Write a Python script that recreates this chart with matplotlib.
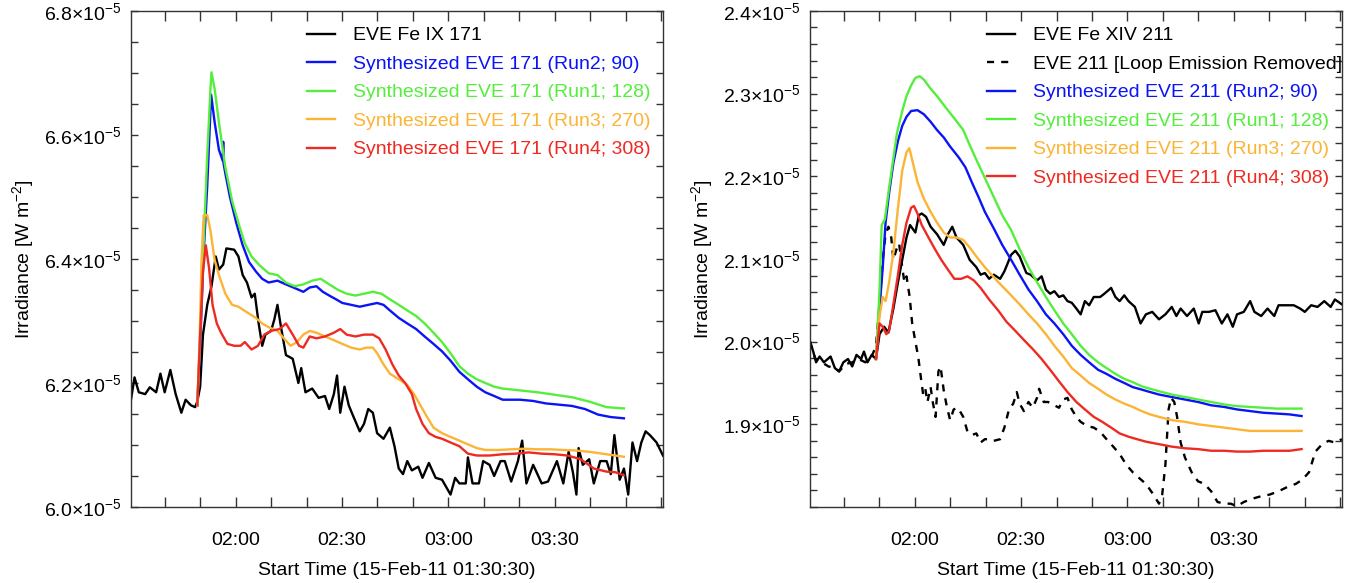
import matplotlib
matplotlib.use("Agg")
import matplotlib.pyplot as plt
from matplotlib.ticker import FixedLocator, MultipleLocator, FuncFormatter

plt.rcParams['font.family'] = ['Liberation Sans', 'DejaVu Sans']
plt.rcParams['mathtext.fontset'] = 'custom'
plt.rcParams['mathtext.rm'] = 'Liberation Sans'
plt.rcParams['mathtext.it'] = 'Liberation Sans:italic'
plt.rcParams['mathtext.default'] = 'regular'

# time axis: minutes after 01:30:30 on 15-Feb-11
xtick_pos = [29.5, 59.5, 89.5, 119.5]
xtick_labels = ['02:00', '02:30', '03:00', '03:30']

# ---------------- left panel: 171 (values in 1e-5 W m^-2) ----------------
t171_obs = [0, 1.0, 2.2, 4.0, 5.3, 7.1, 8.3, 9.5, 11.1, 12.6, 14.2, 15.4, 16.9, 18.1, 18.7,
            19.5, 20.3, 21.5, 22.7, 23.9, 24.8, 26.0, 26.9, 29.1, 30.3, 31.5, 32.7, 34.0,
            34.9, 36.0, 37.0, 37.9, 39.5, 40.4, 41.3, 42.3, 43.7, 45.6, 47.2, 48.0, 49.2,
            51.1, 52.9, 54.7, 55.9, 57.2, 58.1, 59.0, 60.2, 61.4, 62.7, 64.5, 65.7, 66.9,
            68.2, 69.4, 71.2, 73.0, 74.3, 75.5, 76.7, 77.9, 79.2, 81.0, 82.2, 84.0, 85.9,
            87.7, 88.9, 90.1, 91.4, 92.6, 94.4, 95.0, 96.3, 98.1, 99.3, 101.1, 102.4, 104.2,
            105.4, 107.2, 109.1, 110.3, 111.5, 113.4, 115.8, 117.6, 120.1, 121.9, 123.4,
            124.6, 125.6, 126.2, 127.4, 129.2, 130.5, 132.3, 134.1, 135.3, 136.3, 137.8,
            139.0, 140.2, 141.4, 142.7, 143.9, 145.1, 146.3, 148.2, 150.0]
v171_obs = [6.173, 6.209, 6.185, 6.182, 6.193, 6.185, 6.215, 6.185, 6.221, 6.182,
            6.152, 6.173, 6.164, 6.161, 6.170, 6.194, 6.278, 6.326, 6.356, 6.404,
            6.383, 6.391, 6.417, 6.415, 6.404, 6.374, 6.362, 6.338, 6.344, 6.296,
            6.260, 6.278, 6.284, 6.302, 6.326, 6.290, 6.245, 6.239, 6.200, 6.224,
            6.185, 6.191, 6.176, 6.179, 6.158, 6.182, 6.212, 6.152, 6.194, 6.164,
            6.146, 6.122, 6.134, 6.158, 6.152, 6.119, 6.110, 6.128, 6.098, 6.062,
            6.053, 6.074, 6.059, 6.065, 6.047, 6.071, 6.047, 6.044, 6.032, 6.020,
            6.047, 6.038, 6.038, 6.080, 6.038, 6.038, 6.074, 6.068, 6.050, 6.074,
            6.074, 6.041, 6.074, 6.107, 6.038, 6.068, 6.038, 6.041, 6.074, 6.038,
            6.089, 6.056, 6.020, 6.095, 6.068, 6.077, 6.038, 6.074, 6.074, 6.053,
            6.116, 6.044, 6.062, 6.020, 6.104, 6.074, 6.104, 6.122, 6.116, 6.104, 6.083]

t171_run2 = [18.7, 19.5, 20.5, 21.5, 22.4, 22.6, 23.6, 24.8, 25.9, 26.0, 26.1, 26.6, 27.9,
             29.7, 31.5, 33.3, 35.2, 37.0, 38.8, 41.3, 43.7, 46.2, 48.6, 50.4, 52.3, 54.1,
             55.9, 57.8, 59.6, 62.1, 64.5, 66.9, 69.4, 71.2, 73.0, 75.5, 77.9, 80.4, 82.8,
             85.3, 87.7, 90.1, 92.6, 95.0, 97.5, 99.9, 102.4, 104.8, 107.2, 109.7, 113.4,
             117.0, 120.7, 124.3, 128.0, 131.7, 135.3, 139.0]
v171_run2 = [6.164, 6.260, 6.410, 6.518, 6.638, 6.665, 6.620, 6.576, 6.558, 6.589, 6.554,
             6.538, 6.500, 6.458, 6.422, 6.395, 6.380, 6.368, 6.362, 6.365, 6.359, 6.353,
             6.347, 6.354, 6.356, 6.347, 6.341, 6.335, 6.329, 6.326, 6.323, 6.326,
             6.329, 6.326, 6.317, 6.305, 6.296, 6.287, 6.275, 6.263, 6.251, 6.236,
             6.218, 6.206, 6.194, 6.185, 6.179, 6.173, 6.173, 6.173, 6.171, 6.167,
             6.165, 6.163, 6.158, 6.149, 6.145, 6.143]

t171_run1 = [18.7, 19.5, 20.5, 21.5, 22.4, 22.7, 23.6, 24.8, 26.6, 28.5, 30.3, 32.1, 34.0,
             36.4, 38.8, 41.3, 43.7, 46.2, 48.6, 51.1, 53.5, 55.9, 58.4, 60.8, 63.3, 65.7,
             68.2, 70.6, 73.0, 75.5, 77.9, 80.4, 82.8, 85.3, 87.7, 90.1, 92.6, 95.0, 97.5,
             99.9, 102.4, 104.8, 109.7, 114.6, 119.5, 124.3, 129.2, 134.1, 139.0]
v171_run1 = [6.164, 6.278, 6.428, 6.566, 6.674, 6.701, 6.674, 6.620, 6.548, 6.494,
             6.458, 6.425, 6.404, 6.389, 6.377, 6.374, 6.362, 6.356, 6.359, 6.365,
             6.368, 6.359, 6.350, 6.344, 6.341, 6.344, 6.347, 6.344, 6.335, 6.326,
             6.317, 6.308, 6.296, 6.281, 6.266, 6.248, 6.227, 6.215, 6.206, 6.200,
             6.194, 6.191, 6.188, 6.185, 6.181, 6.177, 6.170, 6.161, 6.159]

t171_run3 = [18.7, 19.3, 19.9, 20.5, 21.5, 22.4, 23.6, 24.8, 26.6, 28.5, 30.3, 32.7, 35.2,
             37.0, 38.8, 41.3, 43.1, 45.0, 46.8, 48.6, 50.4, 52.3, 54.7, 57.2, 59.6, 62.1,
             64.5, 66.3, 68.2, 69.4, 71.2, 73.0, 75.5, 77.9, 79.8, 81.6, 83.4, 85.3, 87.7,
             90.1, 92.6, 95.0, 97.5, 99.9, 103.6, 107.2, 110.9, 114.6, 118.2, 121.9, 125.6,
             129.2, 134.1, 139.0]
v171_run3 = [6.164, 6.260, 6.398, 6.470, 6.471, 6.446, 6.398, 6.374, 6.344, 6.326,
             6.323, 6.314, 6.305, 6.296, 6.290, 6.284, 6.272, 6.260, 6.266, 6.278,
             6.284, 6.281, 6.275, 6.269, 6.263, 6.257, 6.254, 6.257, 6.257, 6.248,
             6.230, 6.215, 6.206, 6.197, 6.182, 6.164, 6.146, 6.128, 6.119, 6.113,
             6.107, 6.101, 6.095, 6.092, 6.092, 6.093, 6.094, 6.093, 6.093, 6.092,
             6.091, 6.089, 6.085, 6.081]

t171_run4 = [18.7, 19.5, 20.3, 21.1, 22.0, 23.0, 24.2, 25.4, 27.2, 29.1, 30.9, 32.1, 34.0,
             35.8, 37.6, 39.5, 41.9, 43.7, 45.6, 47.4, 48.6, 50.4, 52.3, 54.7, 57.2, 59.0,
             60.8, 63.3, 65.7, 68.2, 70.0, 71.8, 73.7, 75.5, 77.3, 79.2, 80.4, 82.2, 84.0,
             85.9, 87.7, 90.1, 92.6, 95.0, 97.5, 101.1, 104.8, 108.5, 112.1, 115.8, 119.5,
             123.1, 126.8, 130.5, 134.1, 136.6, 139.0]
v171_run4 = [6.164, 6.278, 6.380, 6.422, 6.386, 6.326, 6.296, 6.281, 6.263, 6.260,
             6.260, 6.266, 6.254, 6.260, 6.278, 6.284, 6.287, 6.296, 6.278, 6.260,
             6.257, 6.275, 6.272, 6.275, 6.281, 6.287, 6.278, 6.275, 6.278, 6.278,
             6.272, 6.254, 6.230, 6.212, 6.200, 6.182, 6.158, 6.134, 6.119, 6.113,
             6.110, 6.104, 6.098, 6.086, 6.083, 6.083, 6.085, 6.086, 6.088, 6.086,
             6.085, 6.083, 6.077, 6.062, 6.057, 6.056, 6.051]

# ---------------- right panel: 211 (values in 1e-5 W m^-2) ----------------
t211_obs = [0, 0.9, 1.7, 2.7, 3.9, 5.8, 7.0, 8.2, 9.4, 10.7, 11.9, 13.1, 14.4, 15.2, 16.2,
            17.4, 18.6, 19.6, 20.9, 22.1, 23.5, 24.8, 26.0, 27.2, 28.2, 29.7, 30.7, 31.5,
            32.7, 34.0, 35.8, 37.7, 38.9, 40.1, 41.3, 43.2, 45.0, 46.9, 48.1, 49.3, 50.5,
            51.8, 53.6, 54.8, 56.7, 57.9, 59.1, 61.0, 62.2, 64.0, 65.3, 66.5, 67.7, 68.9,
            70.2, 71.4, 72.6, 73.8, 75.1, 76.3, 77.5, 78.7, 80.0, 81.8, 83.0, 84.9, 86.1,
            87.3, 88.6, 89.8, 91.6, 93.2, 94.7, 96.5, 98.4, 100.2, 102.0, 103.3, 104.5,
            106.3, 108.2, 109.6, 110.6, 112.5, 114.3, 116.1, 117.7, 119.2, 120.4, 122.3,
            124.1, 125.3, 127.2, 129.0, 130.9, 132.1, 133.9, 136.4, 138.2, 139.5, 141.3,
            143.1, 145.0, 146.8, 148.0, 150.0]
v211_obs = [2.000, 1.988, 1.975, 1.982, 1.975, 1.982, 1.968, 1.964, 1.975, 1.979,
            1.970, 1.984, 1.979, 1.988, 1.975, 1.984, 1.979, 2.009, 2.018, 2.011,
            2.040, 2.072, 2.099, 2.126, 2.141, 2.132, 2.153, 2.155, 2.151, 2.139,
            2.130, 2.117, 2.130, 2.139, 2.126, 2.117, 2.099, 2.090, 2.081, 2.083,
            2.076, 2.081, 2.076, 2.085, 2.105, 2.110, 2.103, 2.083, 2.081, 2.074,
            2.079, 2.063, 2.058, 2.061, 2.054, 2.056, 2.049, 2.047, 2.040, 2.033,
            2.049, 2.044, 2.054, 2.054, 2.058, 2.065, 2.054, 2.049, 2.056, 2.049,
            2.042, 2.022, 2.033, 2.036, 2.027, 2.033, 2.042, 2.031, 2.040, 2.031,
            2.040, 2.022, 2.036, 2.036, 2.038, 2.022, 2.033, 2.018, 2.033, 2.036,
            2.049, 2.036, 2.031, 2.040, 2.031, 2.044, 2.044, 2.044, 2.040, 2.036,
            2.044, 2.042, 2.049, 2.042, 2.051, 2.045]

t211_noloop = [0, 1.5, 3.3, 5.2, 7.0, 8.2, 10.1, 11.9, 13.7, 15.6, 17.4, 18.6, 19.6, 20.5,
               21.3, 22.1, 22.9, 23.5, 24.4, 25.1, 26.0, 26.6, 27.2, 28.1, 28.8, 29.7, 30.5,
               31.3, 31.9, 32.5, 33.1, 34.0, 34.6, 35.4, 36.2, 36.8, 37.7, 38.5, 39.5, 40.5,
               41.7, 43.2, 44.4, 45.6, 46.9, 48.1, 49.3, 50.5, 51.8, 53.6, 54.8, 56.1, 57.3,
               58.3, 59.1, 60.3, 61.6, 62.8, 64.0, 64.6, 65.9, 67.1, 68.9, 70.2, 71.4, 72.6,
               73.8, 75.1, 76.3, 78.1, 80.0, 81.8, 83.6, 85.5, 87.3, 89.2, 91.0, 92.8, 94.7,
               96.5, 98.4, 99.3, 100.2, 101.1, 101.8, 102.7, 103.5, 104.5, 105.7, 107.6,
               109.4, 111.2, 113.1, 114.9, 116.8, 118.6, 120.4, 122.3, 124.7, 127.2, 129.6,
               132.1, 134.5, 137.0, 138.8, 140.7, 142.5, 144.4, 146.2, 148.0, 150.0]
v211_noloop = [2.000, 1.979, 1.975, 1.970, 1.968, 1.964, 1.973, 1.975, 1.979, 1.975,
               1.982, 1.995, 2.045, 2.099, 2.130, 2.139, 2.126, 2.099, 2.112, 2.119,
               2.090, 2.072, 2.079, 2.054, 2.022, 2.000, 1.982, 1.955, 1.936, 1.943,
               1.927, 1.945, 1.927, 1.909, 1.964, 1.970, 1.941, 1.923, 1.905, 1.918,
               1.920, 1.909, 1.891, 1.887, 1.889, 1.878, 1.882, 1.882, 1.880, 1.882,
               1.896, 1.918, 1.925, 1.939, 1.925, 1.916, 1.927, 1.920, 1.932, 1.943,
               1.927, 1.927, 1.923, 1.920, 1.930, 1.932, 1.918, 1.909, 1.903, 1.898,
               1.896, 1.891, 1.882, 1.873, 1.864, 1.851, 1.842, 1.835, 1.828, 1.817,
               1.804, 1.815, 1.851, 1.918, 1.932, 1.927, 1.909, 1.878, 1.860, 1.842,
               1.831, 1.828, 1.819, 1.806, 1.804, 1.804, 1.801, 1.806, 1.810, 1.813,
               1.815, 1.819, 1.824, 1.828, 1.833, 1.842, 1.867, 1.876, 1.880, 1.878, 1.882]

t211_run2 = [18.6, 19.6, 20.5, 21.3, 22.3, 23.5, 24.8, 26.0, 27.2, 28.5, 30.3, 32.1, 34.0,
             35.8, 37.7, 39.5, 41.9, 43.8, 45.6, 47.5, 49.3, 51.8, 54.2, 56.7, 59.1, 61.6,
             64.0, 66.5, 68.9, 71.4, 73.8, 76.3, 78.7, 81.2, 83.6, 86.1, 88.6, 91.0, 93.5,
             95.9, 98.4, 102.0, 105.7, 109.4, 113.1, 116.8, 120.4, 124.1, 127.8, 131.5,
             135.2, 138.6]
v211_run2 = [1.979, 2.040, 2.090, 2.144, 2.180, 2.216, 2.243, 2.261, 2.272, 2.279,
             2.280, 2.275, 2.266, 2.256, 2.247, 2.236, 2.223, 2.211, 2.193, 2.175,
             2.157, 2.137, 2.117, 2.099, 2.081, 2.063, 2.049, 2.033, 2.022, 2.009,
             1.995, 1.984, 1.975, 1.966, 1.961, 1.955, 1.950, 1.945, 1.942, 1.939,
             1.936, 1.933, 1.930, 1.927, 1.923, 1.921, 1.918, 1.916, 1.914, 1.913,
             1.912, 1.910]

t211_run1 = [18.6, 19.6, 20.2, 21.1, 22.1, 23.3, 24.5, 26.0, 27.2, 28.5, 29.7, 30.9, 32.1,
             34.0, 35.8, 38.3, 40.7, 43.2, 45.0, 46.9, 49.3, 51.8, 54.2, 56.7, 59.1, 61.6,
             64.0, 66.5, 68.9, 71.4, 73.8, 76.3, 78.7, 81.2, 83.6, 86.1, 88.6, 91.0, 93.5,
             95.9, 98.4, 102.0, 105.7, 109.4, 113.1, 116.8, 120.4, 124.1, 127.8, 131.5,
             135.2, 138.6]
v211_run1 = [1.979, 2.063, 2.141, 2.148, 2.180, 2.216, 2.252, 2.279, 2.297, 2.310,
             2.319, 2.321, 2.317, 2.306, 2.297, 2.283, 2.270, 2.256, 2.238, 2.220,
             2.198, 2.175, 2.153, 2.135, 2.112, 2.090, 2.072, 2.054, 2.038, 2.022,
             2.009, 1.995, 1.984, 1.975, 1.968, 1.961, 1.955, 1.951, 1.946, 1.943,
             1.940, 1.936, 1.933, 1.930, 1.927, 1.924, 1.922, 1.921, 1.920, 1.919,
             1.919, 1.919]

t211_run3 = [18.6, 19.6, 20.5, 21.3, 22.3, 23.5, 24.8, 26.0, 27.2, 28.0, 28.8, 30.3, 32.1,
             34.0, 35.8, 37.7, 39.5, 41.3, 43.2, 45.0, 46.9, 49.3, 51.8, 54.2, 56.7, 59.1,
             61.6, 64.0, 66.5, 68.9, 71.4, 73.8, 76.3, 78.7, 81.2, 83.6, 86.1, 88.6, 91.0,
             93.5, 95.9, 98.4, 102.0, 105.7, 109.4, 113.1, 116.8, 120.4, 124.1, 127.8,
             131.5, 135.2, 138.6]
v211_run3 = [1.979, 2.031, 2.054, 2.049, 2.072, 2.108, 2.162, 2.207, 2.229, 2.234,
             2.220, 2.193, 2.173, 2.157, 2.144, 2.132, 2.126, 2.126, 2.123, 2.114,
             2.103, 2.090, 2.078, 2.067, 2.056, 2.045, 2.033, 2.022, 2.009, 1.995,
             1.982, 1.968, 1.959, 1.950, 1.943, 1.936, 1.930, 1.925, 1.921, 1.916,
             1.912, 1.909, 1.905, 1.903, 1.900, 1.898, 1.896, 1.894, 1.892, 1.892,
             1.892, 1.892, 1.892]

t211_run4 = [18.6, 19.6, 20.5, 21.5, 22.3, 23.5, 24.8, 26.0, 27.2, 28.5, 29.3, 30.3, 31.5,
             33.4, 35.2, 37.0, 38.9, 40.7, 42.6, 44.4, 46.2, 48.1, 50.5, 53.0, 55.4, 57.9,
             60.3, 62.8, 65.3, 67.7, 70.2, 72.6, 75.1, 77.5, 80.0, 82.4, 84.9, 87.3, 89.8,
             92.2, 94.7, 97.1, 99.6, 102.0, 105.7, 109.4, 113.1, 116.8, 120.4, 124.1, 127.8,
             131.5, 135.2, 138.6]
v211_run4 = [1.979, 2.022, 2.018, 2.009, 2.013, 2.045, 2.081, 2.117, 2.144, 2.162,
             2.164, 2.155, 2.141, 2.126, 2.112, 2.099, 2.087, 2.076, 2.076, 2.079,
             2.074, 2.065, 2.051, 2.038, 2.024, 2.013, 2.002, 1.991, 1.979, 1.966,
             1.952, 1.939, 1.927, 1.918, 1.909, 1.903, 1.896, 1.889, 1.885, 1.882,
             1.879, 1.877, 1.875, 1.873, 1.871, 1.870, 1.868, 1.868, 1.867, 1.867,
             1.868, 1.868, 1.868, 1.870]

BLUE = '#0a14f5'
GREEN = '#55ee3c'
ORANGE = '#fbb435'
RED = '#ee2a22'
FS = 14


def sci_fmt(v, pos):
    return '%.1f\u00d710$^{-5}$' % v


def style_axes(ax, ylim, ymajor, yminor):
    ax.set_xlim(0, 150)
    ax.set_ylim(*ylim)
    ax.xaxis.set_major_locator(FixedLocator(xtick_pos))
    ax.set_xticklabels(xtick_labels)
    ax.xaxis.set_minor_locator(MultipleLocator(10, offset=9.5))
    ax.yaxis.set_major_locator(FixedLocator(ymajor))
    ax.yaxis.set_minor_locator(MultipleLocator(yminor))
    ax.yaxis.set_major_formatter(FuncFormatter(sci_fmt))
    ax.tick_params(which='both', direction='in', top=True, right=True,
                   colors='#333333', labelcolor='black', width=1)
    ax.tick_params(axis='x', which='both', length=7, pad=18, labelsize=FS)
    ax.tick_params(axis='y', which='both', length=5, pad=7, labelsize=14)
    for s in ax.spines.values():
        s.set_color('#333333')
        s.set_linewidth(1)
    ax.set_xlabel('Start Time (15-Feb-11 01:30:30)', fontsize=FS)
    ax.set_ylabel(r'Irradiance [W m$^{-2}$]', fontsize=FS)
    ax.xaxis.set_label_coords(0.5, -0.11)
    ax.yaxis.set_label_coords(-0.178, 0.5)


fig = plt.figure(figsize=(13.63, 5.83), dpi=100)
ax1 = fig.add_axes([0.0961, 0.1304, 0.3903, 0.8508])
ax2 = fig.add_axes([0.5943, 0.1304, 0.3903, 0.8508])

lw = 1.7
ax1.plot(t171_obs, v171_obs, color='black', lw=lw, label='EVE Fe IX 171')
ax1.plot(t171_run2, v171_run2, color=BLUE, lw=lw, label='Synthesized EVE 171 (Run2; 90)')
ax1.plot(t171_run1, v171_run1, color=GREEN, lw=lw, label='Synthesized EVE 171 (Run1; 128)')
ax1.plot(t171_run3, v171_run3, color=ORANGE, lw=lw, label='Synthesized EVE 171 (Run3; 270)')
ax1.plot(t171_run4, v171_run4, color=RED, lw=lw, label='Synthesized EVE 171 (Run4; 308)')
style_axes(ax1, (6.0, 6.8), [6.0, 6.2, 6.4, 6.6, 6.8], 0.05)

ax2.plot(t211_obs, v211_obs, color='black', lw=lw, label='EVE Fe XIV 211')
ax2.plot(t211_noloop, v211_noloop, color='black', lw=lw, ls=(0, (3, 3)),
         label='EVE 211 [Loop Emission Removed]')
ax2.plot(t211_run2, v211_run2, color=BLUE, lw=lw, label='Synthesized EVE 211 (Run2; 90)')
ax2.plot(t211_run1, v211_run1, color=GREEN, lw=lw, label='Synthesized EVE 211 (Run1; 128)')
ax2.plot(t211_run3, v211_run3, color=ORANGE, lw=lw, label='Synthesized EVE 211 (Run3; 270)')
ax2.plot(t211_run4, v211_run4, color=RED, lw=lw, label='Synthesized EVE 211 (Run4; 308)')
style_axes(ax2, (1.8, 2.4), [1.9, 2.0, 2.1, 2.2, 2.3, 2.4], 0.02)

for ax, x0 in ((ax1, 0.331), (ax2, 0.333)):
    ax.legend(loc='upper left', bbox_to_anchor=(x0, 0.968), frameon=False, fontsize=FS,
              handlelength=1.45, handletextpad=0.9, labelspacing=0.56,
              borderpad=0, borderaxespad=0, labelcolor='linecolor')

fig.savefig('out.png', dpi=100)
